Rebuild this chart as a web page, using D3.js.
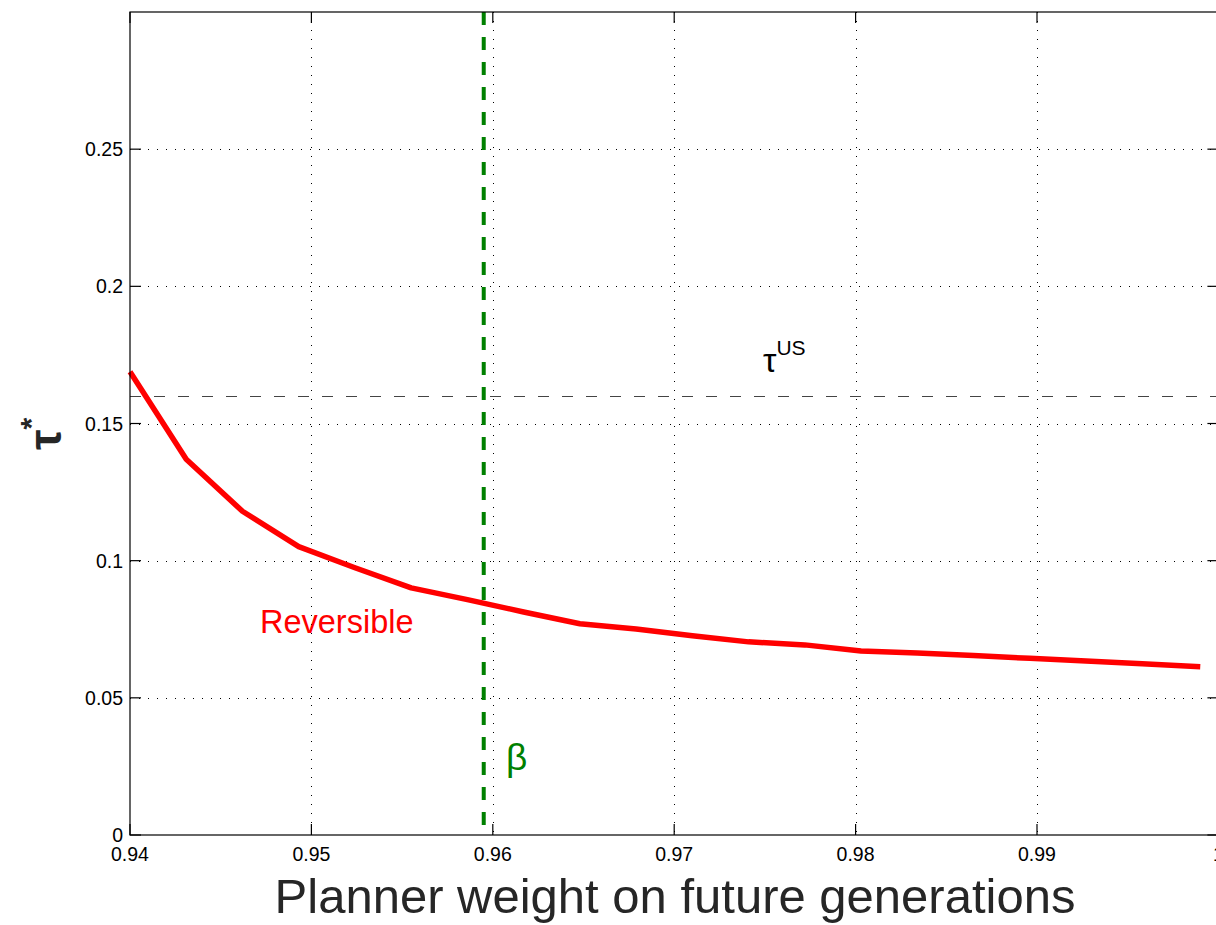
<!DOCTYPE html>
<html>
<head>
<meta charset="utf-8">
<script src="https://d3js.org/d3.v7.min.js"></script>
<style>
  html, body { margin: 0; padding: 0; background: #fff; }
  svg { display: block; }
  text { font-family: "Liberation Sans", Arial, Helvetica, sans-serif; }
</style>
</head>
<body>
<svg id="chart" width="1216" height="925"></svg>
<script>
// Planner weight on future generations (x) and optimal tax rate tau* (y)
const weights = [0.94, 0.9431, 0.9462, 0.9493, 0.9524, 0.9555, 0.9586, 0.9617, 0.9648, 0.9679,
                 0.9710, 0.9741, 0.9772, 0.9803, 0.9834, 0.9865, 0.9896, 0.9927, 0.9958, 0.999];
const reversibleTau = [0.1689, 0.1370, 0.1180, 0.1051, 0.0974, 0.0901, 0.0858, 0.0813, 0.0770, 0.0751,
                       0.0726, 0.0704, 0.0693, 0.0671, 0.0663, 0.0654, 0.0644, 0.0634, 0.0624, 0.0613];

const xTicks = [0.94, 0.95, 0.96, 0.97, 0.98, 0.99, 1.00];
const xTickLabels = ["0.94", "0.95", "0.96", "0.97", "0.98", "0.99", "1"];
const yTicks = [0, 0.05, 0.10, 0.15, 0.20, 0.25];
const yTickLabels = ["0", "0.05", "0.1", "0.15", "0.2", "0.25"];

const tauUS = 0.16;     // reference tax rate
const beta = 0.9595;    // market discount factor

const svg = d3.select("#chart");
const plotLeft = 130, plotRight = 1218.4, plotTop = 12, plotBottom = 835;

const x = d3.scaleLinear().domain([0.94, 1.0]).range([plotLeft, plotRight]);
const y = d3.scaleLinear().domain([0, 0.3]).range([plotBottom, plotTop]);

// dotted grid
const grid = svg.append("g").attr("stroke", "#000").attr("stroke-width", 1)
  .attr("stroke-dasharray", "1,8").attr("fill", "none");
xTicks.slice(1, -1).forEach(t => {
  grid.append("line").attr("x1", Math.round(x(t)) + 0.5).attr("x2", Math.round(x(t)) + 0.5)
    .attr("y1", plotTop).attr("y2", plotBottom);
});
yTicks.slice(1).forEach(t => {
  grid.append("line").attr("x1", plotLeft).attr("x2", plotRight)
    .attr("y1", Math.round(y(t)) + 0.5).attr("y2", Math.round(y(t)) + 0.5);
});

// tau^US reference level
svg.append("line")
  .attr("x1", plotLeft).attr("x2", plotRight)
  .attr("y1", Math.round(y(tauUS)) + 0.5).attr("y2", Math.round(y(tauUS)) + 0.5)
  .attr("stroke", "#444").attr("stroke-width", 1.2).attr("stroke-dasharray", "11,13");

// reversible policy curve
const line = d3.line().x((d, i) => x(weights[i])).y(d => y(d));
svg.append("path")
  .datum(reversibleTau)
  .attr("d", line)
  .attr("fill", "none")
  .attr("stroke", "#ff0000")
  .attr("stroke-width", 5.5)
  .attr("stroke-linejoin", "round");

// beta marker
svg.append("line")
  .attr("x1", x(beta)).attr("x2", x(beta))
  .attr("y1", plotTop).attr("y2", plotBottom)
  .attr("stroke", "#008000").attr("stroke-width", 4).attr("stroke-dasharray", "13,12");

// axes box with inward ticks
const axes = svg.append("g").attr("stroke", "#000").attr("stroke-width", 1.2).attr("fill", "none");
axes.append("rect").attr("x", plotLeft).attr("y", plotTop)
  .attr("width", plotRight - plotLeft).attr("height", plotBottom - plotTop);
const tickLen = 11;
xTicks.forEach(t => {
  const px = x(t);
  axes.append("line").attr("x1", px).attr("x2", px).attr("y1", plotBottom).attr("y2", plotBottom - tickLen);
  axes.append("line").attr("x1", px).attr("x2", px).attr("y1", plotTop).attr("y2", plotTop + tickLen);
});
yTicks.forEach(t => {
  const py = y(t);
  axes.append("line").attr("x1", plotLeft).attr("x2", plotLeft + tickLen).attr("y1", py).attr("y2", py);
  axes.append("line").attr("x1", plotRight).attr("x2", plotRight - tickLen).attr("y1", py).attr("y2", py);
});

// tick labels
svg.append("g").selectAll("text").data(xTicks).join("text")
  .attr("x", d => x(d)).attr("y", 861)
  .attr("text-anchor", "middle").attr("font-size", 19.5).attr("fill", "#000")
  .text((d, i) => xTickLabels[i]);
svg.append("g").selectAll("text").data(yTicks).join("text")
  .attr("x", 123).attr("y", d => y(d) + 7)
  .attr("text-anchor", "end").attr("font-size", 19.5).attr("fill", "#000")
  .text((d, i) => yTickLabels[i]);

// axis titles
svg.append("text")
  .attr("x", 675).attr("y", 913)
  .attr("text-anchor", "middle").attr("font-size", 49).attr("fill", "#262626")
  .text("Planner weight on future generations");

const yTitle = svg.append("text")
  .attr("transform", "translate(61,434) rotate(-90)")
  .attr("text-anchor", "middle").attr("fill", "#262626").attr("font-weight", "bold");
yTitle.append("tspan").attr("font-size", 46).text("τ");
yTitle.append("tspan").attr("font-size", 30).attr("dy", -20).text("*");

// annotations
const usLabel = svg.append("text").attr("x", 763).attr("y", 372).attr("fill", "#000");
usLabel.append("tspan").attr("font-size", 34).text("τ");
usLabel.append("tspan").attr("font-size", 21).attr("dy", -17).text("US");

svg.append("text")
  .attr("x", 260).attr("y", 633)
  .attr("font-size", 32.5).attr("fill", "#ff0000")
  .text("Reversible");

svg.append("text")
  .attr("x", 506).attr("y", 770)
  .attr("font-size", 37).attr("fill", "#008000")
  .attr("font-family", "'Liberation Serif', 'DejaVu Serif', serif")
  .text("β");
</script>
</body>
</html>
